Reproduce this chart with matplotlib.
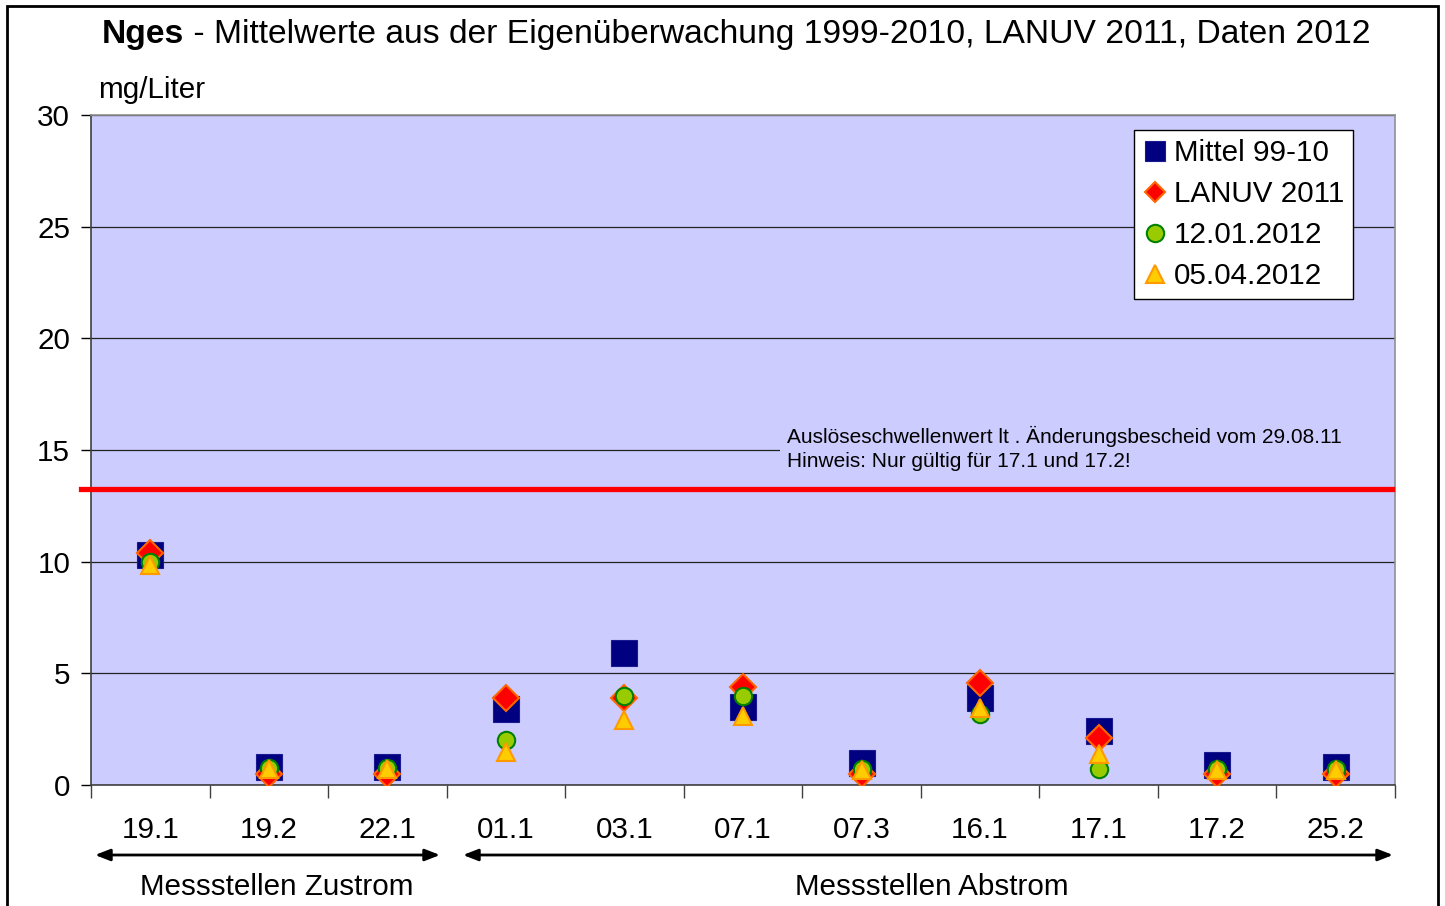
import matplotlib.pyplot as plt
from matplotlib.patches import Rectangle

plt.rcParams['font.family'] = ['Liberation Sans', 'DejaVu Sans']

stations = ['19.1', '19.2', '22.1', '01.1', '03.1', '07.1', '07.3', '16.1', '17.1', '17.2', '25.2']
mittel = [10.3, 0.8, 0.8, 3.4, 5.9, 3.5, 1.0, 3.9, 2.4, 0.9, 0.8]
lanuv = [10.4, 0.5, 0.5, 3.9, 3.9, 4.4, 0.5, 4.55, 2.1, 0.5, 0.5]
jan12 = [10.0, 0.75, 0.75, 2.0, 4.0, 4.0, 0.7, 3.2, 0.7, 0.7, 0.7]
apr12 = [9.85, 0.7, 0.7, 1.5, 2.9, 3.1, 0.65, 3.45, 1.4, 0.65, 0.65]
threshold = 13.25
series_names = ['Mittel 99-10', 'LANUV 2011', '12.01.2012', '05.04.2012']

FS = 21.3
W, H = 1445, 906
fig = plt.figure(figsize=(W / 100, H / 100), dpi=100)
ax = fig.add_axes([91 / W, 1 - 785 / H, (1395 - 91) / W, (785 - 115) / H])
ax.set_facecolor('#CCCCFF')

x = list(range(len(stations)))
ax.plot(x, mittel, 's', ms=19, color='#000080', mec='#1a1a90', mew=0.8, zorder=4)
ax.plot(x, lanuv, 'D', ms=13, color='#FF0000', mec='#FF6600', mew=1.5, zorder=5)
ax.plot(x, jan12, 'o', ms=12.5, color='#99CC00', mec='#008000', mew=1.5, zorder=6)
ax.plot(x, apr12, '^', ms=13, color='#FFCC00', mec='#FF9900', mew=1.5, zorder=7)

ax.axhline(threshold, xmin=-0.0077, xmax=0.998, color='#FF0000', lw=3.8,
           clip_on=False, zorder=3)

ax.set_xlim(-0.5, len(stations) - 0.5)
ax.set_ylim(0, 30)
ax.set_yticks(range(0, 31, 5))
ax.set_xticks(x)
ax.set_xticklabels(stations)
ax.set_xticks([i - 0.5 for i in range(len(stations) + 1)], minor=True)
ax.tick_params(axis='x', which='major', length=0, pad=22, labelsize=FS)
ax.tick_params(axis='x', which='minor', length=9, width=1, color='#404040')
ax.tick_params(axis='y', length=7, width=1, pad=8, labelsize=FS)
ax.grid(axis='y', color='#222222', lw=0.9)
ax.set_axisbelow(True)
ax.spines['left'].set_color('#404040')
ax.spines['bottom'].set_color('#404040')
ax.spines['top'].set_color('#909090')
ax.spines['right'].set_color('#909090')
for s in ax.spines.values():
    s.set_linewidth(1.2)

# annotation box covering the grid line
ax.add_patch(Rectangle((0.528, 14.3), 0.472, 1.9, transform=ax.get_yaxis_transform(),
                       facecolor='#CCCCFF', edgecolor='none', zorder=1))
ax.text(0.5337, 15.05, 'Auslöseschwellenwert lt . Änderungsbescheid vom 29.08.11\n'
        'Hinweis: Nur gültig für 17.1 und 17.2!', transform=ax.get_yaxis_transform(),
        fontsize=15, va='center', ha='left', linespacing=1.33, zorder=8)

leg = ax.legend(series_names, loc='upper right', bbox_to_anchor=(0.9678, 0.977),
                fontsize=FS, frameon=True, fancybox=False, framealpha=1,
                edgecolor='black', borderpad=0.3, labelspacing=0.44,
                handlelength=0.8, handletextpad=0.25, borderaxespad=0)
leg.get_frame().set_linewidth(1)
for h, ms in zip(leg.legend_handles, [14, 10, 12.5, 13]):
    h.set_markersize(ms)

fig.text(98 / W, 1 - 90 / H, 'mg/Liter', fontsize=FS, va='center', ha='left')

t1 = fig.text(102 / W, 1 - 34 / H, 'Nges', fontsize=24.2, weight='bold', va='center')
ax.annotate(' - Mittelwerte aus der Eigenüberwachung 1999-2010, LANUV 2011, Daten 2012',
            xy=(1, 0), xycoords=t1, va='bottom', ha='left', fontsize=24.2,
            annotation_clip=False)

# group arrows and labels
for x0, x1, label, xc in [(95, 440, 'Messstellen Zustrom', 277),
                          (463, 1393, 'Messstellen Abstrom', 932)]:
    fig.add_artist(plt.Annotation('', xy=(x1 / W, 1 - 855 / H), xytext=(x0 / W, 1 - 855 / H),
                                  xycoords='figure fraction', textcoords='figure fraction',
                                  arrowprops=dict(arrowstyle='<|-|>,head_length=0.9,head_width=0.35',
                                                  color='black', lw=2, shrinkA=0, shrinkB=0)))
    fig.text(xc / W, 1 - 887 / H, label, fontsize=FS, ha='center', va='center')

fig.add_artist(Rectangle((7 / W, -0.02), (1438 - 7) / W, (906 - 6) / H + 0.02,
                         transform=fig.transFigure, fill=False, edgecolor='black', lw=2))

fig.savefig('out.png', dpi=100)
